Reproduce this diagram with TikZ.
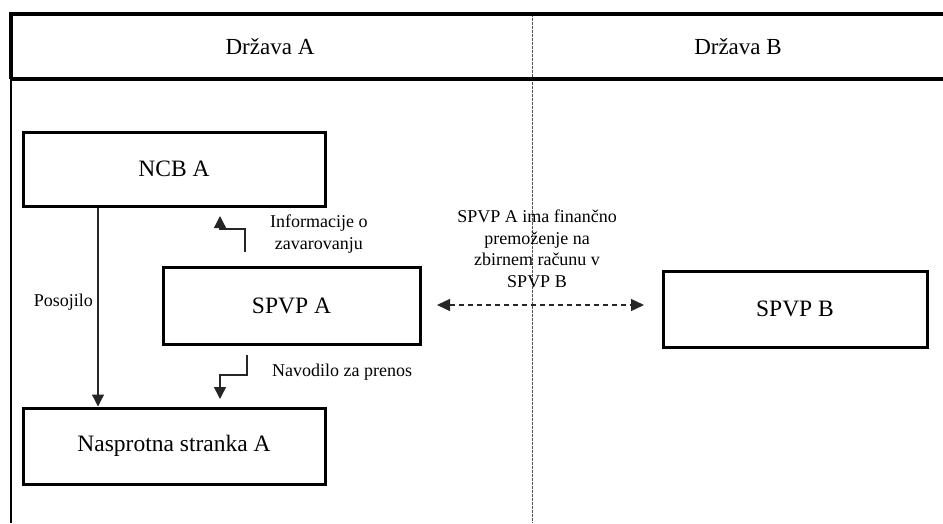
\documentclass[tikz,border=0pt]{standalone}
\usepackage{fontspec}
\setmainfont{Liberation Serif}
\usetikzlibrary{arrows.meta}
\tikzset{
  box/.style={draw=black, line width=3pt, fill=white, inner sep=0pt, font=\fontsize{23.5}{26}\selectfont},
  lbl/.style={inner sep=0pt, font=\fontsize{18}{21.5}\selectfont, align=center},
  head/.style={inner sep=0pt, font=\fontsize{23}{26}\selectfont},
  conn/.style={draw=black!85, line width=1.3pt, -{Triangle[length=12pt,width=12pt]}},
  dconn/.style={draw=black!85, line width=1.3pt, dash pattern=on 5pt off 4pt, {Triangle[length=13pt,width=12pt]}-{Triangle[length=13pt,width=12pt]}},
  border/.style={draw=black, line width=3.3pt},
  divider/.style={draw=black!70, line width=1pt, dash pattern=on 2.5pt off 1.5pt}
}
\begin{document}
\begin{tikzpicture}[x=1pt,y=-1pt]
\useasboundingbox (0,0) rectangle (943,523);
% frame
\coordinate (tl) at (11,14);
\coordinate (tr) at (943,14);
\coordinate (hl) at (11,79);
\coordinate (hr) at (943,79);
\coordinate (bl) at (11,523);
\coordinate (dt) at (532,14);
\coordinate (db) at (532,523);
\draw[divider] (dt) -- (db);
\draw[border] (tr) -- (tl) -- (hl);
\draw[border] (hl) -- (hr);
\draw[draw=black, line width=2.2pt] (hl) -- (bl);
% headers
\node[head] (hA) at (270,47) {Država A};
\node[head] (hB) at (738,47) {Država B};
% boxes
\node[box, minimum width=302pt, minimum height=74pt] (ncb) at (174,169) {NCB A};
\node[box, minimum width=257pt, minimum height=77pt] (spvpa) at (291.5,305.5) {SPVP A};
\node[box, minimum width=264pt, minimum height=76pt] (spvpb) at (795,309) {SPVP B};
\node[box, minimum width=302pt, minimum height=76pt] (nasp) at (174,446) {Nasprotna stranka A};
% loan
\draw[conn] (ncb.south -| 98,0) -- (nasp.north -| 98,0);
\node[lbl, anchor=east] (posl) at (93,302) {Posojilo};
% information
\coordinate (i0) at (245,252);
\coordinate (i1) at (245,229);
\coordinate (i2) at (220,229);
\coordinate (i3) at (220,216);
\draw[conn] (i0) -- (i1) -- (i2) -- (i3);
\node[lbl, anchor=west] (infl) at (270,234) {Informacije o\\zavarovanju};
% instruction
\coordinate (n0) at (247,355);
\coordinate (n1) at (247,375);
\coordinate (n2) at (220,375);
\coordinate (n3) at (220,399);
\draw[conn] (n0) -- (n1) -- (n2) -- (n3);
\node[lbl, anchor=west] (navl) at (272,372) {Navodilo za prenos};
% holding
\coordinate (h0) at (437,305);
\coordinate (h1) at (644,305);
\draw[dconn] (h0) -- (h1);
\node[lbl] (holdl) at (537,249) {SPVP A ima finančno\\premoženje na\\zbirnem računu v\\SPVP B};
\end{tikzpicture}
\end{document}
